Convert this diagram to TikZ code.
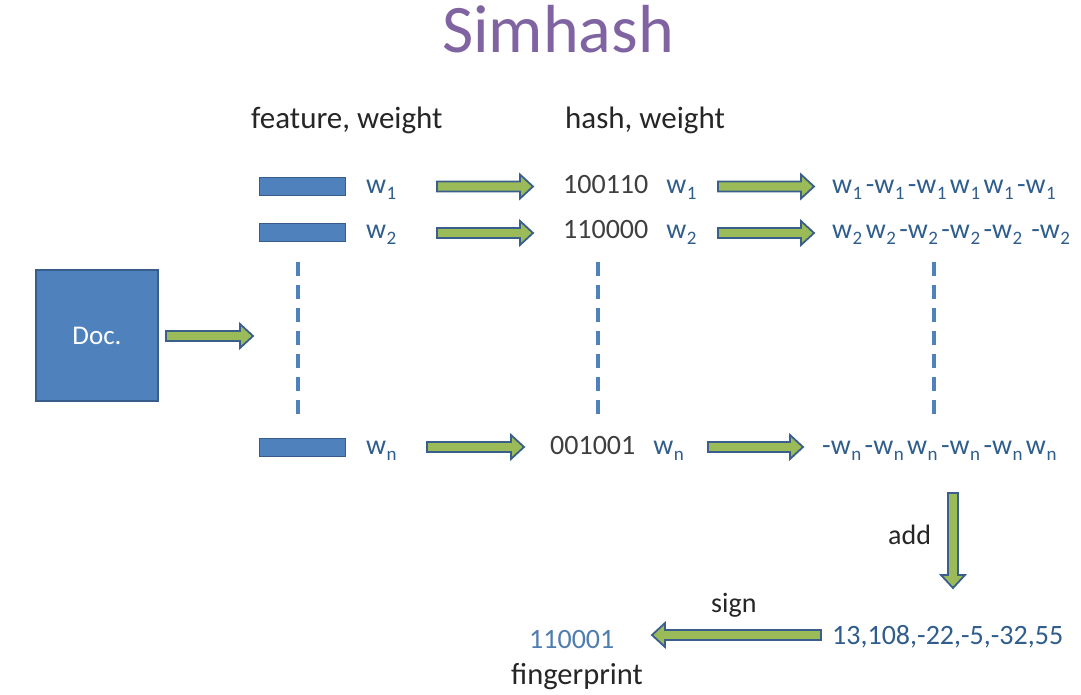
\documentclass[tikz,border=0pt]{standalone}
\usepackage{fontspec}
\setmainfont{Carlito}
\usetikzlibrary{calc}
\definecolor{docblue}{HTML}{4F81BD}
\definecolor{docedge}{HTML}{385D8A}
\definecolor{arrgreen}{HTML}{9BBB59}
\definecolor{arredge}{HTML}{3A5F8C}
\definecolor{wblue}{HTML}{2F5D8C}
\definecolor{lblue}{HTML}{4F7DB0}
\definecolor{titlepurple}{HTML}{8064A2}
\definecolor{darktext}{HTML}{262626}
\definecolor{graytext}{HTML}{3F3F3F}
\newcommand\wsub[1]{w\kern0.5pt\raisebox{-0.22em}{\fontsize{19}{19}\selectfont #1}}
\newcommand\vsp{\hspace{3.4pt}}
\tikzset{
  body/.style={inner sep=0pt, anchor=base west, font=\fontsize{28}{32}\selectfont},
  vec/.style={inner sep=0pt, anchor=base west, text=wblue, font=\fontsize{28}{32}\selectfont},
  head/.style={inner sep=0pt, anchor=base west, text=darktext, font=\fontsize{31}{36}\selectfont},
  feat/.style={draw=docedge, fill=docblue, line width=1.5pt, minimum width=86pt, minimum height=18pt, inner sep=0pt},
  dashline/.style={draw=docblue, line width=3.2pt, dash pattern=on 14pt off 9pt},
  blockarrow/.style={draw=arredge, fill=arrgreen, line width=1.8pt, line join=miter,
    to path={let \p1=($(\tikztotarget)-(\tikztostart)$), \n1={atan2(\y1,\x1)} in
      ($(\tikztostart)+(\n1+90:5pt)$)
      -- ($(\tikztotarget)+(\n1+180:13pt)+(\n1+90:5pt)$)
      -- ($(\tikztotarget)+(\n1+180:13pt)+(\n1+90:12pt)$)
      -- (\tikztotarget)
      -- ($(\tikztotarget)+(\n1+180:13pt)+(\n1-90:12pt)$)
      -- ($(\tikztotarget)+(\n1+180:13pt)+(\n1-90:5pt)$)
      -- ($(\tikztostart)+(\n1-90:5pt)$) -- cycle}},
}
\begin{document}
\begin{tikzpicture}[x=1pt,y=-1pt]
\useasboundingbox[fill=white] (0,0) rectangle (1081,694);
% title
\node[inner sep=0pt, anchor=base, text=titlepurple, font=\fontsize{68}{72}\selectfont] (title) at (558,52) {Simhash};
% headers
\node[head] (hfeat) at (251,128) {feature, weight};
\node[head] (hhash) at (565,128) {hash, weight};
% doc
\node[draw=docedge, fill=docblue, line width=1.8pt, minimum width=122pt, minimum height=131pt, inner sep=0pt,
  text=white, font=\fontsize{27}{30}\selectfont] (doc) at (97,335.5) {Doc.};
% feature rectangles
\node[feat] (f1) at (302.5,186.5) {};
\node[feat] (f2) at (302.5,232.5) {};
\node[feat] (fn) at (302.5,447.5) {};
% weights
\node[body, text=wblue] (w1) at (366,193) {\wsub{1}};
\node[body, text=wblue] (w2) at (366,238) {\wsub{2}};
\node[body, text=wblue] (wn) at (366,454) {\wsub{n}};
% hashes
\node[body, text=graytext] (h1) at (563,193) {100110\hspace{18pt}\textcolor{wblue}{\wsub{1}}};
\node[body, text=graytext] (h2) at (563,238) {110000\hspace{18pt}\textcolor{wblue}{\wsub{2}}};
\node[body, text=graytext] (hn) at (550,454) {001001\hspace{18pt}\textcolor{wblue}{\wsub{n}}};
% weighted vectors
\node[vec] (v1) at (832,193) {\wsub{1}\vsp-\wsub{1}\vsp-\wsub{1}\vsp\wsub{1}\vsp\wsub{1}\vsp-\wsub{1}};
\node[vec] (v2) at (832,238) {\wsub{2}\vsp\wsub{2}\vsp-\wsub{2}\vsp-\wsub{2}\vsp-\wsub{2}\hspace{9pt}-\wsub{2}};
\node[vec] (vn) at (822,454) {-\wsub{n}\vsp-\wsub{n}\vsp\wsub{n}\vsp-\wsub{n}\vsp-\wsub{n}\vsp\wsub{n}};
% sum and fingerprint
\node[body, text=wblue] (sum) at (832,644) {13,108,-22,-5,-32,55};
\node[body, text=lblue] (fp) at (529,648) {110001};
\node[body, text=darktext, font=\fontsize{30.5}{34}\selectfont] (fpl) at (511,684) {fingerprint};
\node[body, text=darktext] (add) at (888,544) {add};
\node[body, text=darktext] (sign) at (711,612) {sign};
% arrow end points
\coordinate (da) at (166,336);   \coordinate (db) at (253,336);
\coordinate (a1s) at (437,186.5); \coordinate (a1e) at (533,186.5);
\coordinate (a2s) at (437,233);   \coordinate (a2e) at (533,233);
\coordinate (ans) at (427,447);   \coordinate (ane) at (524,447);
\coordinate (b1s) at (718,186.5); \coordinate (b1e) at (814,186.5);
\coordinate (b2s) at (718,233);   \coordinate (b2e) at (814,233);
\coordinate (bns) at (708,447);   \coordinate (bne) at (803,447);
\coordinate (ds) at (953,493);    \coordinate (de) at (953,588);
\coordinate (ss) at (821,635);    \coordinate (se) at (652,635);
\draw[blockarrow] (da) to (db);
\draw[blockarrow] (a1s) to (a1e);
\draw[blockarrow] (a2s) to (a2e);
\draw[blockarrow] (ans) to (ane);
\draw[blockarrow] (b1s) to (b1e);
\draw[blockarrow] (b2s) to (b2e);
\draw[blockarrow] (bns) to (bne);
\draw[blockarrow] (ds) to (de);
\draw[blockarrow] (ss) to (se);
% dashed continuation lines
\coordinate (c1t) at (298,262); \coordinate (c1b) at (298,420);
\coordinate (c2t) at (598,262); \coordinate (c2b) at (598,420);
\coordinate (c3t) at (934,262); \coordinate (c3b) at (934,420);
\draw[dashline] (c1t) -- (c1b);
\draw[dashline] (c2t) -- (c2b);
\draw[dashline] (c3t) -- (c3b);
\end{tikzpicture}
\end{document}
